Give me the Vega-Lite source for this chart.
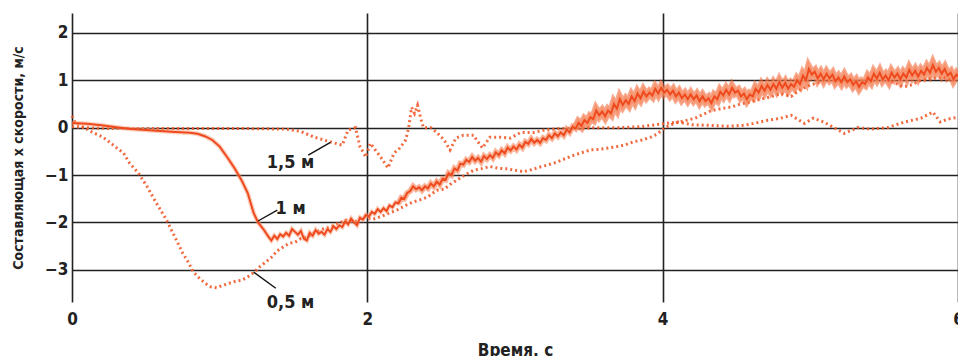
{
  "$schema": "https://vega.github.io/schema/vega-lite/v6.json",
  "width": 886,
  "height": 289,
  "autosize": {"type": "none"},
  "padding": {"left": 72, "top": 13, "right": 0, "bottom": 54},
  "background": "white",
  "config": {"view": {"stroke": null}},
  "datasets": {
    "m1": [
      {"t":0,"v":0.10},{"t":0.1,"v":0.08},{"t":0.2,"v":0.05},{"t":0.3,"v":0.01},{"t":0.4,"v":-0.03},{"t":0.5,"v":-0.05},{"t":0.6,"v":-0.07},{"t":0.7,"v":-0.09},{"t":0.8,"v":-0.11},{"t":0.85,"v":-0.13},{"t":0.9,"v":-0.18},{"t":0.95,"v":-0.26},{"t":1.0,"v":-0.4},{"t":1.05,"v":-0.62},{"t":1.1,"v":-0.85},{"t":1.15,"v":-1.12},{"t":1.19,"v":-1.38},{"t":1.23,"v":-1.8},{"t":1.26,"v":-2.0},{"t":1.3,"v":-2.16},{"t":1.33,"v":-2.3},{"t":1.35,"v":-2.38},{"t":1.37,"v":-2.28},{"t":1.39,"v":-2.35},{"t":1.41,"v":-2.25},{"t":1.43,"v":-2.3},{"t":1.45,"v":-2.22},{"t":1.47,"v":-2.28},{"t":1.49,"v":-2.14},{"t":1.51,"v":-2.2},{"t":1.53,"v":-2.26},{"t":1.55,"v":-2.18},{"t":1.57,"v":-2.34},{"t":1.59,"v":-2.38},{"t":1.61,"v":-2.22},{"t":1.63,"v":-2.28},{"t":1.65,"v":-2.16},{"t":1.67,"v":-2.24},{"t":1.69,"v":-2.2},{"t":1.71,"v":-2.26},{"t":1.73,"v":-2.14},{"t":1.75,"v":-2.2},{"t":1.77,"v":-2.08},{"t":1.79,"v":-2.14},{"t":1.81,"v":-2.06},{"t":1.83,"v":-2.1},{"t":1.85,"v":-1.98},{"t":1.87,"v":-2.04},{"t":1.89,"v":-1.92},{"t":1.91,"v":-2.0},{"t":1.93,"v":-2.06},{"t":1.95,"v":-1.9},{"t":1.97,"v":-1.94},{"t":1.99,"v":-1.84},{"t":2.01,"v":-1.88},{"t":2.03,"v":-1.78},{"t":2.05,"v":-1.82},{"t":2.07,"v":-1.72},{"t":2.09,"v":-1.78},{"t":2.11,"v":-1.7},{"t":2.13,"v":-1.76},{"t":2.15,"v":-1.64},{"t":2.17,"v":-1.68},{"t":2.19,"v":-1.58},{"t":2.21,"v":-1.6},{"t":2.23,"v":-1.48},{"t":2.25,"v":-1.5},{"t":2.27,"v":-1.38},{"t":2.29,"v":-1.34},{"t":2.31,"v":-1.24},{"t":2.33,"v":-1.3},{"t":2.35,"v":-1.26},{"t":2.37,"v":-1.32},{"t":2.39,"v":-1.24},{"t":2.41,"v":-1.28},{"t":2.43,"v":-1.18},{"t":2.45,"v":-1.24},{"t":2.47,"v":-1.14},{"t":2.49,"v":-1.2},{"t":2.51,"v":-1.08},{"t":2.53,"v":-1.1},{"t":2.55,"v":-0.96},{"t":2.57,"v":-1.0},{"t":2.59,"v":-0.86},{"t":2.61,"v":-0.9},{"t":2.63,"v":-0.76},{"t":2.65,"v":-0.78},{"t":2.67,"v":-0.68},{"t":2.69,"v":-0.72},{"t":2.71,"v":-0.62},{"t":2.73,"v":-0.7},{"t":2.75,"v":-0.64},{"t":2.77,"v":-0.72},{"t":2.79,"v":-0.6},{"t":2.81,"v":-0.66},{"t":2.83,"v":-0.58},{"t":2.85,"v":-0.64},{"t":2.87,"v":-0.52},{"t":2.89,"v":-0.58},{"t":2.91,"v":-0.48},{"t":2.93,"v":-0.54},{"t":2.95,"v":-0.42},{"t":2.97,"v":-0.48},{"t":2.99,"v":-0.4},{"t":3.01,"v":-0.46},{"t":3.03,"v":-0.36},{"t":3.05,"v":-0.42},{"t":3.07,"v":-0.3},{"t":3.09,"v":-0.34},{"t":3.11,"v":-0.24},{"t":3.13,"v":-0.32},{"t":3.15,"v":-0.26},{"t":3.17,"v":-0.32},{"t":3.19,"v":-0.22},{"t":3.21,"v":-0.26},{"t":3.23,"v":-0.16},{"t":3.25,"v":-0.22},{"t":3.27,"v":-0.12},{"t":3.29,"v":-0.18},{"t":3.31,"v":-0.1},{"t":3.33,"v":-0.16},{"t":3.35,"v":-0.04},{"t":3.37,"v":-0.1},{"t":3.39,"v":0.02},{"t":3.41,"v":-0.02},{"t":3.43,"v":0.1},{"t":3.45,"v":0.04},{"t":3.47,"v":0.16},{"t":3.49,"v":0.1},{"t":3.51,"v":0.22},{"t":3.53,"v":0.18},{"t":3.55,"v":0.36},{"t":3.57,"v":0.26},{"t":3.59,"v":0.34},{"t":3.61,"v":0.24},{"t":3.63,"v":0.36},{"t":3.65,"v":0.3},{"t":3.67,"v":0.5},{"t":3.69,"v":0.4},{"t":3.71,"v":0.6},{"t":3.73,"v":0.48},{"t":3.75,"v":0.58},{"t":3.77,"v":0.5},{"t":3.79,"v":0.66},{"t":3.81,"v":0.56},{"t":3.83,"v":0.72},{"t":3.85,"v":0.62},{"t":3.87,"v":0.76},{"t":3.89,"v":0.66},{"t":3.91,"v":0.74},{"t":3.93,"v":0.68},{"t":3.95,"v":0.82},{"t":3.97,"v":0.72},{"t":3.99,"v":0.84},{"t":4.01,"v":0.74},{"t":4.03,"v":0.8},{"t":4.05,"v":0.7},{"t":4.07,"v":0.78},{"t":4.09,"v":0.66},{"t":4.11,"v":0.74},{"t":4.13,"v":0.62},{"t":4.15,"v":0.7},{"t":4.17,"v":0.6},{"t":4.19,"v":0.7},{"t":4.21,"v":0.6},{"t":4.23,"v":0.68},{"t":4.25,"v":0.56},{"t":4.27,"v":0.66},{"t":4.29,"v":0.56},{"t":4.31,"v":0.62},{"t":4.33,"v":0.52},{"t":4.35,"v":0.66},{"t":4.37,"v":0.6},{"t":4.39,"v":0.76},{"t":4.41,"v":0.68},{"t":4.43,"v":0.8},{"t":4.45,"v":0.7},{"t":4.47,"v":0.84},{"t":4.49,"v":0.74},{"t":4.51,"v":0.78},{"t":4.53,"v":0.66},{"t":4.55,"v":0.72},{"t":4.57,"v":0.6},{"t":4.59,"v":0.7},{"t":4.61,"v":0.66},{"t":4.63,"v":0.82},{"t":4.65,"v":0.74},{"t":4.67,"v":0.88},{"t":4.69,"v":0.78},{"t":4.71,"v":0.9},{"t":4.73,"v":0.8},{"t":4.75,"v":0.92},{"t":4.77,"v":0.82},{"t":4.79,"v":0.96},{"t":4.81,"v":0.84},{"t":4.83,"v":0.94},{"t":4.85,"v":0.82},{"t":4.87,"v":0.92},{"t":4.89,"v":0.86},{"t":4.91,"v":1.0},{"t":4.93,"v":0.92},{"t":4.95,"v":1.1},{"t":4.97,"v":1.0},{"t":4.99,"v":1.24},{"t":5.01,"v":1.12},{"t":5.03,"v":1.18},{"t":5.05,"v":1.04},{"t":5.07,"v":1.14},{"t":5.09,"v":1.02},{"t":5.11,"v":1.14},{"t":5.13,"v":1.04},{"t":5.15,"v":1.12},{"t":5.17,"v":0.98},{"t":5.19,"v":1.06},{"t":5.21,"v":0.96},{"t":5.23,"v":1.08},{"t":5.25,"v":0.96},{"t":5.27,"v":1.02},{"t":5.29,"v":0.9},{"t":5.31,"v":0.98},{"t":5.33,"v":0.86},{"t":5.35,"v":0.96},{"t":5.37,"v":0.92},{"t":5.39,"v":1.06},{"t":5.41,"v":0.98},{"t":5.43,"v":1.14},{"t":5.45,"v":1.04},{"t":5.47,"v":1.16},{"t":5.49,"v":1.02},{"t":5.51,"v":1.1},{"t":5.53,"v":1.0},{"t":5.55,"v":1.16},{"t":5.57,"v":1.06},{"t":5.59,"v":1.14},{"t":5.61,"v":1.02},{"t":5.63,"v":1.14},{"t":5.65,"v":1.06},{"t":5.67,"v":1.22},{"t":5.69,"v":1.1},{"t":5.71,"v":1.2},{"t":5.73,"v":1.08},{"t":5.75,"v":1.2},{"t":5.77,"v":1.12},{"t":5.79,"v":1.26},{"t":5.81,"v":1.16},{"t":5.83,"v":1.32},{"t":5.85,"v":1.18},{"t":5.87,"v":1.26},{"t":5.89,"v":1.14},{"t":5.91,"v":1.24},{"t":5.93,"v":1.1},{"t":5.95,"v":1.16},{"t":5.97,"v":1.02},{"t":5.99,"v":1.12},{"t":6.0,"v":1.08}
    ],
    "m05": [
      {"t":0,"v":0.25},{"t":0.02,"v":0.12},{"t":0.07,"v":0.02},{"t":0.14,"v":-0.1},{"t":0.21,"v":-0.2},{"t":0.28,"v":-0.37},{"t":0.35,"v":-0.54},{"t":0.39,"v":-0.75},{"t":0.45,"v":-0.96},{"t":0.51,"v":-1.25},{"t":0.56,"v":-1.53},{"t":0.64,"v":-1.95},{"t":0.7,"v":-2.33},{"t":0.75,"v":-2.65},{"t":0.79,"v":-2.85},{"t":0.82,"v":-3.04},{"t":0.87,"v":-3.2},{"t":0.91,"v":-3.3},{"t":0.94,"v":-3.36},{"t":0.98,"v":-3.38},{"t":1.02,"v":-3.33},{"t":1.07,"v":-3.28},{"t":1.11,"v":-3.24},{"t":1.15,"v":-3.22},{"t":1.19,"v":-3.15},{"t":1.23,"v":-3.06},{"t":1.27,"v":-2.94},{"t":1.31,"v":-2.84},{"t":1.35,"v":-2.74},{"t":1.39,"v":-2.6},{"t":1.43,"v":-2.52},{"t":1.47,"v":-2.44},{"t":1.51,"v":-2.42},{"t":1.55,"v":-2.34},{"t":1.6,"v":-2.3},{"t":1.64,"v":-2.22},{"t":1.7,"v":-2.14},{"t":1.75,"v":-2.1},{"t":1.8,"v":-2.02},{"t":1.86,"v":-1.95},{"t":1.92,"v":-1.98},{"t":1.97,"v":-1.88},{"t":2.03,"v":-1.94},{"t":2.09,"v":-1.88},{"t":2.15,"v":-1.8},{"t":2.2,"v":-1.74},{"t":2.26,"v":-1.64},{"t":2.31,"v":-1.57},{"t":2.36,"v":-1.52},{"t":2.41,"v":-1.46},{"t":2.47,"v":-1.32},{"t":2.52,"v":-1.3},{"t":2.56,"v":-1.2},{"t":2.61,"v":-1.1},{"t":2.66,"v":-1.0},{"t":2.72,"v":-0.9},{"t":2.78,"v":-0.86},{"t":2.83,"v":-0.82},{"t":2.89,"v":-0.86},{"t":2.95,"v":-0.87},{"t":3.0,"v":-0.9},{"t":3.06,"v":-0.93},{"t":3.12,"v":-0.88},{"t":3.17,"v":-0.83},{"t":3.23,"v":-0.78},{"t":3.29,"v":-0.72},{"t":3.35,"v":-0.64},{"t":3.4,"v":-0.58},{"t":3.46,"v":-0.52},{"t":3.51,"v":-0.47},{"t":3.57,"v":-0.46},{"t":3.63,"v":-0.43},{"t":3.69,"v":-0.4},{"t":3.75,"v":-0.36},{"t":3.8,"v":-0.3},{"t":3.86,"v":-0.26},{"t":3.92,"v":-0.2},{"t":3.96,"v":-0.14},{"t":4.0,"v":-0.04},{"t":4.04,"v":0.04},{"t":4.09,"v":0.1},{"t":4.17,"v":0.16},{"t":4.22,"v":0.2},{"t":4.26,"v":0.26},{"t":4.33,"v":0.36},{"t":4.41,"v":0.41},{"t":4.47,"v":0.44},{"t":4.53,"v":0.5},{"t":4.6,"v":0.55},{"t":4.66,"v":0.6},{"t":4.72,"v":0.64},{"t":4.8,"v":0.72},{"t":4.87,"v":0.66},{"t":4.93,"v":0.8},{"t":5.0,"v":0.9},{"t":5.06,"v":0.96},{"t":5.13,"v":1.0},{"t":5.2,"v":1.02},{"t":5.28,"v":0.97},{"t":5.35,"v":0.95},{"t":5.42,"v":1.0},{"t":5.5,"v":1.02},{"t":5.57,"v":0.95},{"t":5.63,"v":0.86},{"t":5.68,"v":0.9},{"t":5.75,"v":1.0},{"t":5.82,"v":1.04},{"t":5.9,"v":1.06},{"t":5.96,"v":1.0},{"t":6.0,"v":1.02}
    ],
    "m15": [
      {"t":0,"v":0.02},{"t":0.15,"v":-0.01},{"t":0.3,"v":-0.02},{"t":0.6,"v":-0.02},{"t":0.9,"v":-0.02},{"t":1.2,"v":-0.02},{"t":1.45,"v":-0.03},{"t":1.55,"v":-0.08},{"t":1.64,"v":-0.2},{"t":1.75,"v":-0.3},{"t":1.83,"v":-0.37},{"t":1.87,"v":-0.05},{"t":1.92,"v":0.0},{"t":1.95,"v":-0.4},{"t":1.99,"v":-0.62},{"t":2.02,"v":-0.33},{"t":2.09,"v":-0.62},{"t":2.14,"v":-0.85},{"t":2.18,"v":-0.54},{"t":2.22,"v":-0.43},{"t":2.26,"v":-0.26},{"t":2.28,"v":0.0},{"t":2.3,"v":0.43},{"t":2.32,"v":0.3},{"t":2.34,"v":0.47},{"t":2.36,"v":0.22},{"t":2.38,"v":0.0},{"t":2.43,"v":0.0},{"t":2.47,"v":-0.1},{"t":2.52,"v":-0.26},{"t":2.56,"v":-0.47},{"t":2.6,"v":-0.22},{"t":2.65,"v":-0.16},{"t":2.72,"v":-0.16},{"t":2.74,"v":-0.26},{"t":2.78,"v":-0.43},{"t":2.83,"v":-0.2},{"t":2.9,"v":-0.2},{"t":2.97,"v":-0.22},{"t":3.04,"v":-0.1},{"t":3.13,"v":-0.1},{"t":3.2,"v":-0.05},{"t":3.3,"v":-0.02},{"t":3.5,"v":0.0},{"t":3.7,"v":0.0},{"t":3.85,"v":0.02},{"t":4.0,"v":0.08},{"t":4.1,"v":0.12},{"t":4.2,"v":0.06},{"t":4.3,"v":0.05},{"t":4.45,"v":0.03},{"t":4.55,"v":0.05},{"t":4.62,"v":0.09},{"t":4.7,"v":0.15},{"t":4.8,"v":0.2},{"t":4.87,"v":0.26},{"t":4.96,"v":0.09},{"t":5.02,"v":0.2},{"t":5.09,"v":0.12},{"t":5.16,"v":0.0},{"t":5.23,"v":-0.12},{"t":5.32,"v":0.0},{"t":5.41,"v":-0.03},{"t":5.52,"v":0.0},{"t":5.64,"v":0.12},{"t":5.75,"v":0.2},{"t":5.83,"v":0.33},{"t":5.88,"v":0.12},{"t":5.93,"v":0.18},{"t":6.0,"v":0.22}
    ],
    "lab": [
      {"label":"1,5 м","t":1.48,"v":-0.75,"t2":1.6,"v2":-0.58,"t3":1.75,"v3":-0.31},
      {"label":"1 м","t":1.48,"v":-1.72,"t2":1.39,"v2":-1.74,"t3":1.26,"v3":-1.97},
      {"label":"0,5 м","t":1.48,"v":-3.7,"t2":1.38,"v2":-3.39,"t3":1.23,"v3":-3.05}
    ]
  },
  "encoding": {
    "x": {
      "field": "t", "type": "quantitative",
      "scale": {"domain": [0, 6], "nice": false, "zero": false},
      "axis": {
        "values": [0, 2, 4, 6], "grid": true, "gridColor": "#222", "gridWidth": 1.6, "gridOpacity": 1,
        "domain": false, "ticks": false, "labelFlush": false, "labelOverlap": false,
        "labelFont": "Liberation Sans Narrow, DejaVu Sans Condensed, Roboto, sans-serif", "labelFontSize": 17, "labelFontWeight": "bold", "labelColor": "#222", "labelPadding": 9,
        "title": "Время, с", "titleFont": "Liberation Sans Narrow, DejaVu Sans Condensed, Roboto, sans-serif", "titleFontSize": 17, "titleFontWeight": "bold", "titleColor": "#222",
        "titleY": 48, "titleBaseline": "middle"
      }
    },
    "y": {
      "field": "v", "type": "quantitative",
      "scale": {"domain": [-3.68, 2.42], "nice": false, "zero": false},
      "axis": {
        "values": [-3, -2, -1, 0, 1, 2], "grid": true, "gridColor": "#222", "gridWidth": 1.6, "gridOpacity": 1,
        "domain": false, "ticks": false, "labelFlush": false, "labelOverlap": false,
        "labelFont": "Liberation Sans Narrow, DejaVu Sans Condensed, Roboto, sans-serif", "labelFontSize": 17, "labelFontWeight": "bold", "labelColor": "#222", "labelPadding": 4,
        "title": "Составляющая x скорости, м/с", "titleFont": "Liberation Sans Narrow, DejaVu Sans Condensed, Roboto, sans-serif", "titleFontSize": 14, "titleFontWeight": "bold", "titleColor": "#222",
        "titleX": -54, "titleY": 144.5, "titleAngle": -90, "titleAlign": "center", "titleBaseline": "middle"
      }
    }
  },
  "layer": [
    {"data": {"name": "m15"}, "mark": {"type": "line", "color": "#f05a2a", "strokeWidth": 3, "strokeDash": [2, 3], "opacity": 0.9}},
    {"data": {"name": "m05"}, "mark": {"type": "line", "color": "#f05a2a", "strokeWidth": 3, "strokeDash": [2, 3], "opacity": 0.9}},
    {"data": {"name": "m1"}, "transform": [{"filter": "datum.t > 3.4"}], "mark": {"type": "line", "color": "#f2622f", "strokeWidth": 9, "opacity": 0.55}},
    {"data": {"name": "m1"}, "transform": [{"filter": "datum.t > 2.2"}], "mark": {"type": "line", "color": "#f4784a", "strokeWidth": 6, "opacity": 0.45}},
    {"data": {"name": "m1"}, "mark": {"type": "line", "color": "#f7a07c", "strokeWidth": 4.5, "opacity": 0.5}},
    {"data": {"name": "m1"}, "mark": {"type": "line", "color": "#ee4a1e", "strokeWidth": 2}},
    {"data": {"name": "lab"}, "mark": {"type": "rule", "color": "#111", "strokeWidth": 1.4},
     "encoding": {"x": {"field": "t2", "type": "quantitative"}, "y": {"field": "v2", "type": "quantitative"}, "x2": {"field": "t3"}, "y2": {"field": "v3"}}},
    {"data": {"name": "lab"}, "mark": {"type": "text", "font": "Liberation Sans Narrow, DejaVu Sans Condensed, Roboto, sans-serif", "fontSize": 18, "fontWeight": "bold", "color": "#222", "align": "center", "baseline": "middle"},
     "encoding": {"text": {"field": "label"}}}
  ]
}
